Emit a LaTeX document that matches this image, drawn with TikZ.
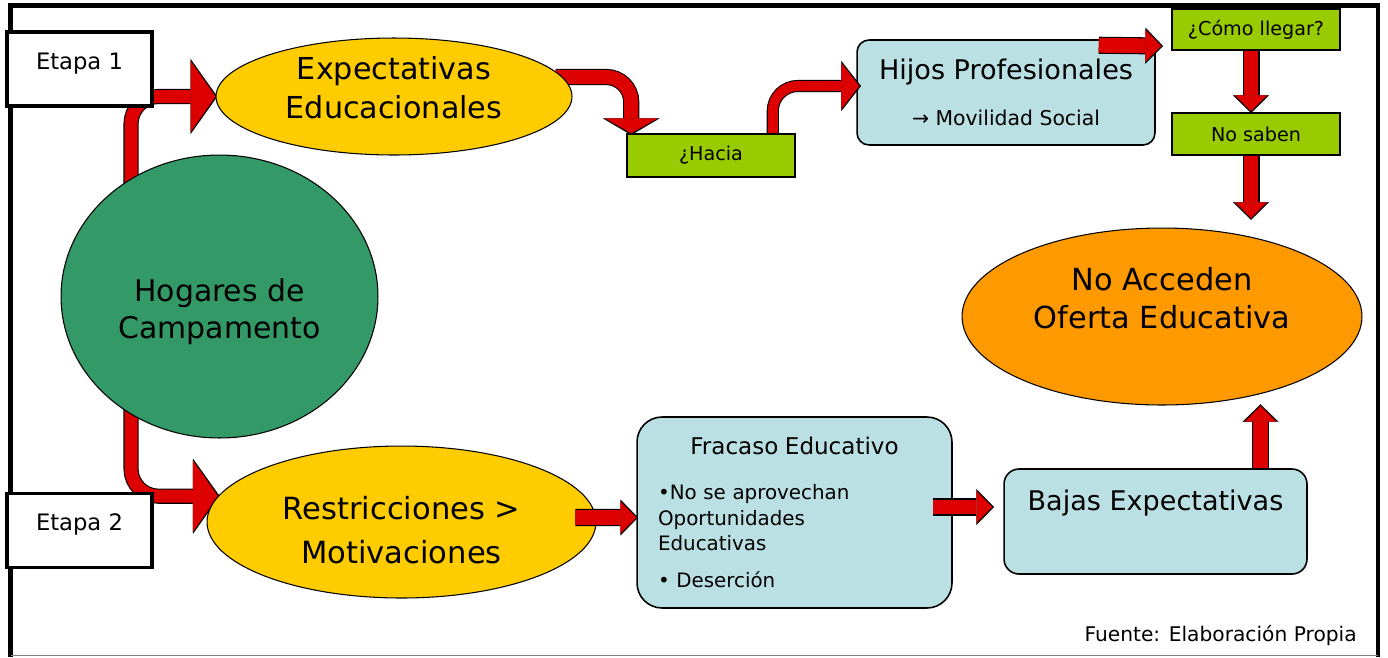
\documentclass[tikz,border=0pt]{standalone}
\usepackage{fontspec}
\setmainfont{DejaVu Sans}
\usetikzlibrary{shapes.geometric,arrows.meta,calc,positioning}
\definecolor{rojo}{HTML}{DD0000}
\definecolor{verde}{HTML}{339966}
\definecolor{amarillo}{HTML}{FFCC00}
\definecolor{naranja}{HTML}{FF9900}
\definecolor{lima}{HTML}{99CC00}
\definecolor{celeste}{HTML}{BBE0E3}
\pgfdeclarelayer{fondo}
\pgfsetlayers{fondo,main}
\tikzset{
  etapa/.style={draw, line width=2.2pt, fill=white, minimum width=2.9cm, minimum height=1.48cm, inner sep=0pt, font=\fontsize{12.9}{15}\selectfont, text height=9.8pt, text depth=9.8pt},
  ovalo/.style={ellipse, draw, line width=0.6pt, inner sep=0pt, align=center},
  verdebox/.style={draw, line width=0.9pt, fill=lima, minimum width=3.36cm, inner sep=0pt, font=\fontsize{10.9}{13}\selectfont},
  caja/.style={draw, line width=0.9pt, fill=celeste, inner sep=0pt},
  bloque/.style n args={6}{draw=rojo, line width=#1, -{Triangle[length=#3, width=#5, line width=0.1pt]},
    preaction={draw=black, line width=#2, shorten >=-1pt, -{Triangle[length=#4, width=#6, line width=0.1pt]}}},
  flecha/.style={bloque={8.5pt}{9.7pt}{9pt}{10pt}{18pt}{20.4pt}},
}
\begin{document}
\begin{tikzpicture}[x=0.02cm, y=-0.02cm]
  \useasboundingbox (0,0) rectangle (1388,657);

  % nodos
  \node[etapa] (etapa1) at (79.5,69) {Etapa 1};
  \node[etapa] (etapa2) at (79.5,530.5) {Etapa 2};
  \node[ovalo, fill=verde, minimum width=6.34cm, minimum height=5.66cm, font=\fontsize{17}{20.8}\selectfont] (hogares) at (219.5,296.5) {\rule{0pt}{30pt}Hogares de\\Campamento};
  \node[ovalo, fill=amarillo, minimum width=7.12cm, minimum height=2.34cm, font=\fontsize{17.2}{22.7}\selectfont] (expect) at (394,96.5) {Expectativas\\Educacionales\rule[-10.2pt]{0pt}{10.2pt}};
  \node[ovalo, fill=amarillo, minimum width=7.78cm, minimum height=3.04cm, font=\fontsize{17.4}{25}\selectfont] (restric) at (401.5,522) {\rule{0pt}{22.5pt}Restricciones >\\Motivaciones};
  \node[ovalo, fill=naranja, minimum width=8cm, minimum height=3.54cm, font=\fontsize{17.3}{21.5}\selectfont] (noacc) at (1162,316.5) {No Acceden\\Oferta Educativa\rule[-21.5pt]{0pt}{21.5pt}};
  \node[verdebox, minimum height=0.86cm] (hacia) at (711,155.5) {¿Hacia};
  \node[verdebox, minimum height=0.82cm] (como) at (1256,29.5) {¿Cómo llegar?};
  \node[verdebox, minimum height=0.84cm] (nosaben) at (1256,134) {No saben};
  \node[caja, rounded corners=0.24cm, minimum width=5.96cm, minimum height=2.1cm, align=center, font=\fontsize{15.4}{26}\selectfont] (hijos) at (1006,92.5) {Hijos Profesionales\\{\fontsize{11.6}{13}\selectfont → Movilidad Social}};
  \node[caja, rounded corners=0.5cm, minimum width=6.3cm, minimum height=3.82cm, text width=5.46cm, align=left, font=\fontsize{11.3}{14.7}\selectfont] (fracaso) at (794.5,512.5) {\makebox[5.46cm]{\fontsize{13.1}{15}\selectfont Fracaso Educativo}\\[10.8pt]•No se aprovechan\\Oportunidades\\Educativas\\[6.3pt]• Deserción};
  \node[caja, rounded corners=0.3cm, minimum width=6.06cm, minimum height=2.1cm, font=\fontsize{15.4}{18}\selectfont, text height=11.7pt, text depth=24.7pt] (bajas) at (1155.5,521.5) {Bajas Expectativas};
  \node[anchor=base east, inner sep=0pt, font=\fontsize{11.5}{14}\selectfont] (fuente) at (1357,641) {Fuente: Elaboración Propia};

  % marco y flechas de fondo
  \begin{pgfonlayer}{fondo}
    \draw[line width=2.5pt] (10.5,657) -- (10.5,5.5) -- (1378,5.5) -- (1378,657);
    \draw[gray, line width=0.6pt] (10.5,655.5) -- (1378,655.5);
    \coordinate (s1) at (131,200);
    \coordinate (s2) at (131,400);
    \draw[bloque={7.4pt}{8.6pt}{14.2pt}{15.2pt}{40.3pt}{42.7pt}, rounded corners=0.55cm] (s1) |- (expect.west);
    \draw[bloque={7.4pt}{8.6pt}{14.2pt}{15.2pt}{40.3pt}{42.7pt}, rounded corners=0.55cm] (s2) |- (restric.172);
    \draw[bloque={8pt}{9.2pt}{8.5pt}{9.5pt}{30pt}{32.4pt}, rounded corners=0.5cm] ($(expect.east)+(-17,-19.5)$) -| ($(hacia.north west)+(5,0)$);
  \end{pgfonlayer}

  % flechas
  \draw[bloque={5.7pt}{6.9pt}{10.2pt}{11.2pt}{26pt}{28.4pt}, rounded corners=0.5cm] ($(hacia.north east)+(-23,0)$) |- ($(hijos.west)+(3,-6.5)$);
  \draw[flecha] ($(hijos.north east)+(-57,6)$) -- ($(como.west)+(-10,16.5)$);
  \draw[flecha] ($(como.south)+(-5,0)$) -- ($(nosaben.north)+(-5,-1)$);
  \coordinate (p7) at (1251,218);
  \draw[flecha] ($(nosaben.south)+(-5,0)$) -- (p7);
  \draw[flecha] ($(restric.east)+(-21,-4.5)$) -- ($(fracaso.west)+(0,5)$);
  \draw[flecha] ($(fracaso.east)+(-20,-5.5)$) -- ($(bajas.west)+(-11,-14.5)$);
  \coordinate (p10) at (1260.5,406);
  \draw[flecha] ($(bajas.north)+(105,0)$) -- (p10);
\end{tikzpicture}
\end{document}
